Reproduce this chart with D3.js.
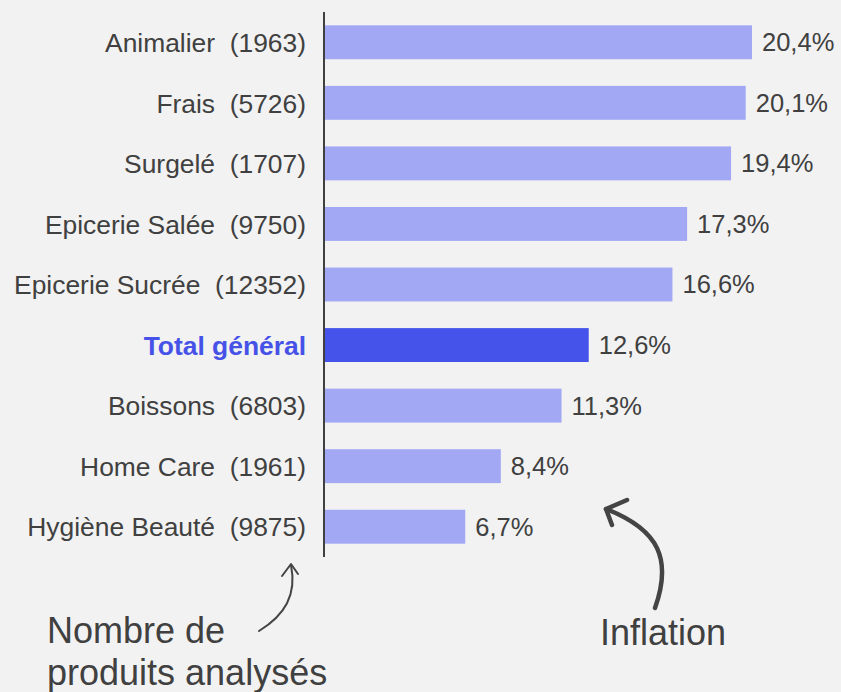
<!DOCTYPE html>
<meta charset="utf-8">
<style>
body { margin: 0; background: #f2f2f2; }
svg text { font-family: Arial, "Liberation Sans", Helvetica, sans-serif; }
.cat { font-size: 26.4px; fill: #404040; text-anchor: end; white-space: pre; }
.val { font-size: 25.5px; fill: #404040; }
.note { font-size: 36px; fill: #404040; }
</style>
<body>
<script src="https://d3js.org/d3.v7.min.js"></script>
<script>
// data
var categories = ["Animalier", "Frais", "Surgelé", "Epicerie Salée", "Epicerie Sucrée",
                  "Total général", "Boissons", "Home Care", "Hygiène Beauté"];
var counts = [1963, 5726, 1707, 9750, 12352, null, 6803, 1961, 9875];
var inflation = [20.4, 20.1, 19.4, 17.3, 16.6, 12.6, 11.3, 8.4, 6.7];
var totalLabel = "Total général";

var width = 841, height = 692;

var svg = d3.select("body").append("svg")
    .attr("width", width)
    .attr("height", height);

svg.append("rect").attr("width", width).attr("height", height).attr("fill", "#f2f2f2");

var y = d3.scaleBand()
    .domain(categories)
    .range([12, 557])
    .paddingInner(0.44)
    .paddingOuter(0.22);

var x = d3.scaleLinear()
    .domain([0, 20.4])
    .range([325, 752]);

var fmt = function(v) { return d3.format(".1f")(v).replace(".", ",") + "%"; };

var rows = categories.map(function(c, i) {
    return {cat: c, n: counts[i], v: inflation[i], total: c === totalLabel};
});

// bars
svg.selectAll(".bar")
    .data(rows)
    .enter().append("rect")
    .attr("class", "bar")
    .attr("x", x(0))
    .attr("y", function(d) { return y(d.cat); })
    .attr("width", function(d) { return x(d.v) - x(0); })
    .attr("height", y.bandwidth())
    .attr("fill", function(d) { return d.total ? "#4653ea" : "#a3a8f5"; });

// value labels
svg.selectAll(".val")
    .data(rows)
    .enter().append("text")
    .attr("class", "val")
    .attr("x", function(d) { return x(d.v) + 10; })
    .attr("y", function(d) { return y(d.cat) + y.bandwidth() / 2; })
    .attr("dy", "0.35em")
    .text(function(d) { return fmt(d.v); });

// category labels
svg.selectAll(".cat")
    .data(rows)
    .enter().append("text")
    .attr("class", "cat")
    .attr("x", x(0) - 19)
    .attr("y", function(d) { return y(d.cat) + y.bandwidth() / 2; })
    .attr("dy", "0.37em")
    .style("font-weight", function(d) { return d.total ? "bold" : null; })
    .style("fill", function(d) { return d.total ? "#4651e8" : null; })
    .text(function(d) { return d.total ? d.cat : d.cat + "  (" + d.n + ")"; });

// vertical axis line
svg.append("line")
    .attr("x1", x(0) - 1).attr("x2", x(0) - 1)
    .attr("y1", 12).attr("y2", 557)
    .attr("stroke", "#404040")
    .attr("stroke-width", 2);

// annotations
svg.append("text").attr("class", "note").attr("x", 47).attr("y", 643).text("Nombre de");
svg.append("text").attr("class", "note").attr("x", 47).attr("y", 685).text("produits analysés");
svg.append("text").attr("class", "note").attr("x", 600).attr("y", 645).text("Inflation");

var arrowStyle = function(sel, w) {
    sel.attr("fill", "none")
        .attr("stroke", "#444")
        .attr("stroke-width", w)
        .attr("stroke-linecap", "round")
        .attr("stroke-linejoin", "round");
};

svg.append("path").attr("d", "M259,631 C285,615 297,595 291,565").call(arrowStyle, 2);
svg.append("path").attr("d", "M282,576 L291,564 L298,574").call(arrowStyle, 2);

svg.append("path").attr("d", "M655,608 C672,560 660,530 606,509").call(arrowStyle, 4.5);
svg.append("path").attr("d", "M627,500 L606,509 L612,525").call(arrowStyle, 4.5);
</script>
</body>
